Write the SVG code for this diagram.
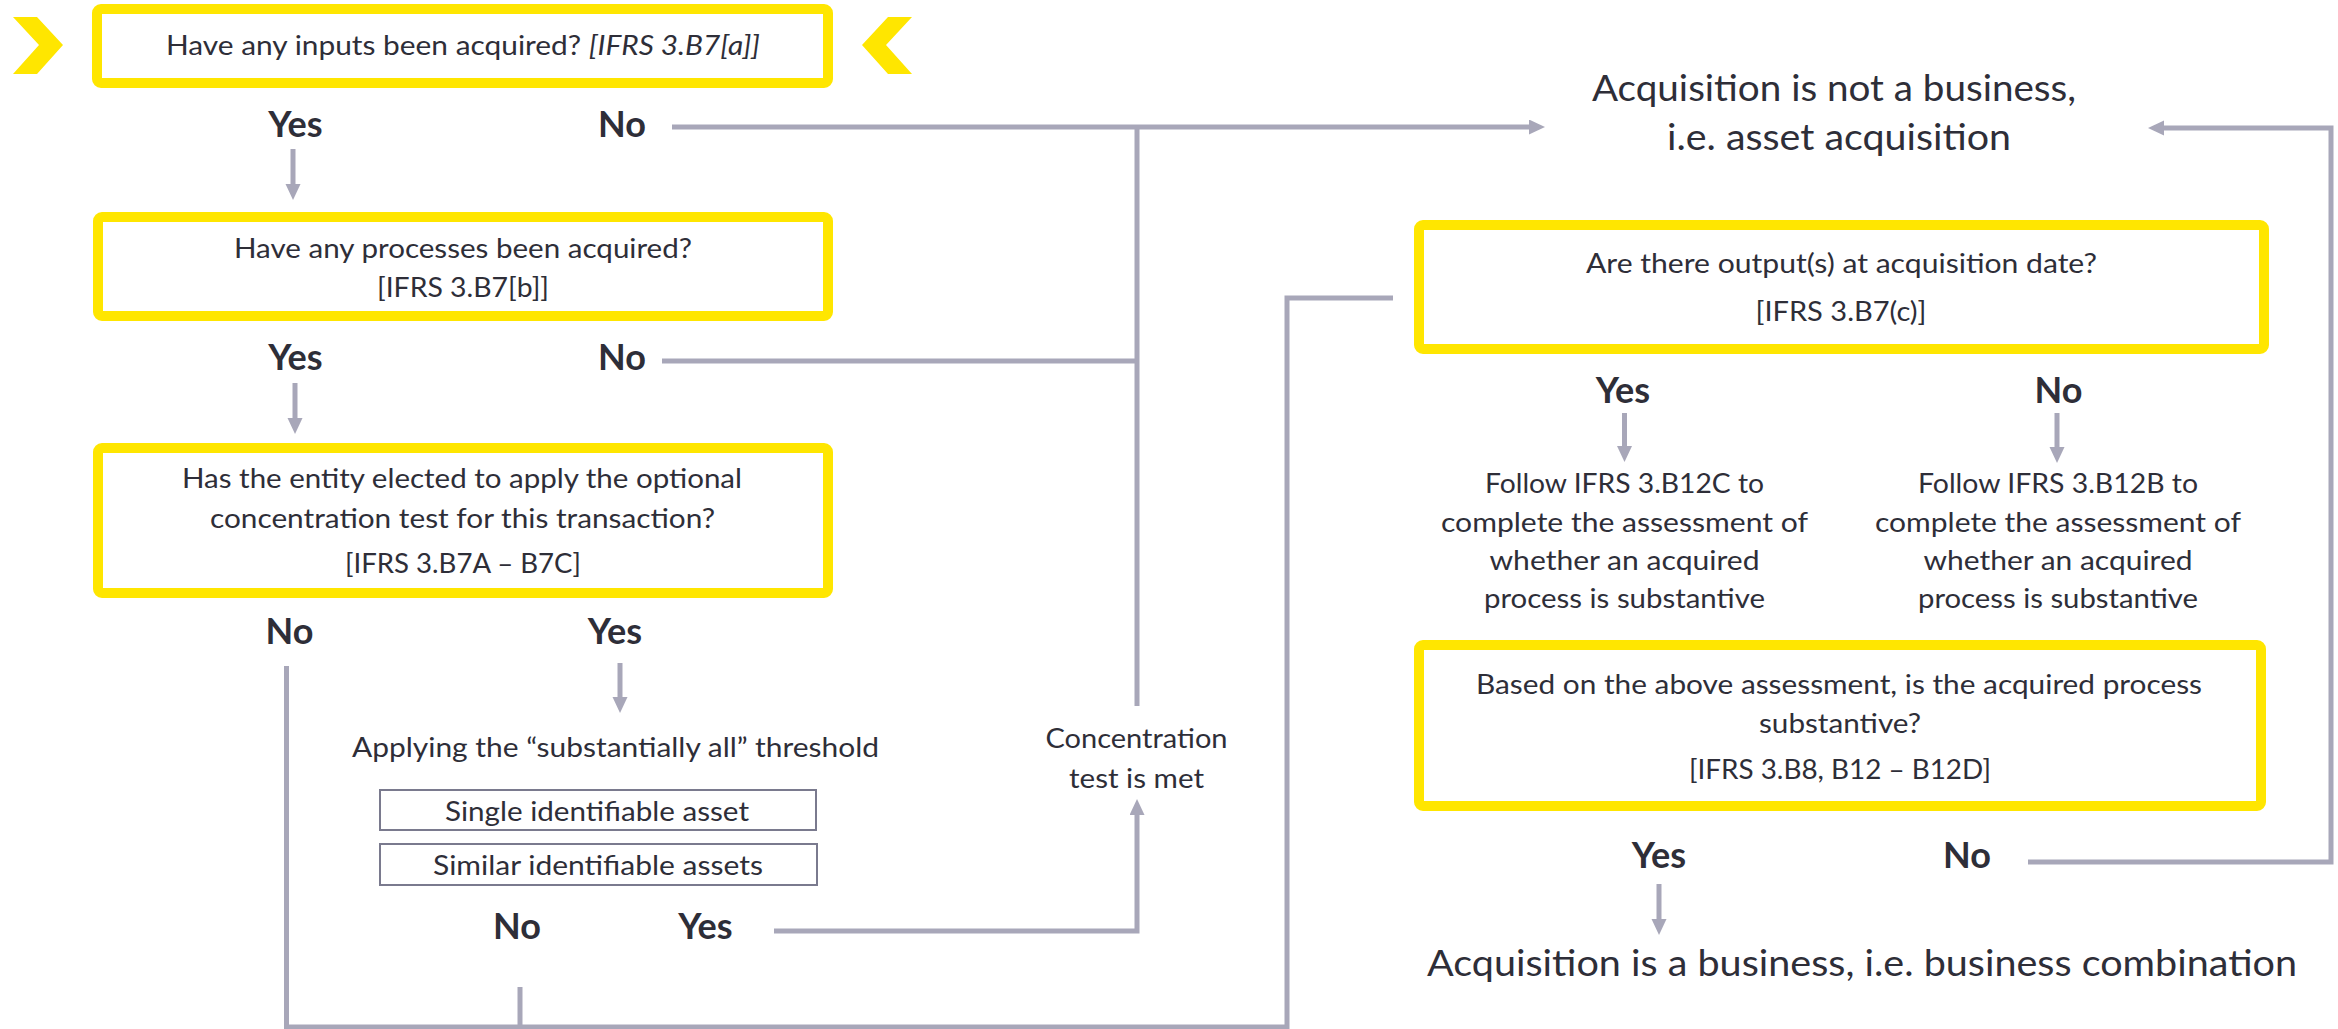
<svg xmlns="http://www.w3.org/2000/svg" width="2338" height="1029" viewBox="0 0 2338 1029">
<style>
text{font-family:Lato,"Liberation Sans",sans-serif;fill:#2e2e38;text-anchor:middle}
.t{font-size:27px}
.big{font-size:36px}
.lbl{font-size:36px;font-weight:bold}
.yb{fill:#ffffff;stroke:#ffe600;stroke-width:10}
.sb{fill:#ffffff;stroke:#7a7a8e;stroke-width:2}
.c{fill:none;stroke:#a8a7b9;stroke-width:5}
.chev{fill:#ffe600}
</style>
<defs>
<marker id="ah" markerUnits="userSpaceOnUse" markerWidth="16" markerHeight="16" refX="2" refY="7.5" orient="auto">
<path d="M0,0 L16,7.5 L0,15 z" fill="#a8a7b9"/>
</marker>
</defs>
<g id="connectors">
<path class="c" d="M672,127 H1531" marker-end="url(#ah)"/>
<path class="c" d="M1137,127 V706"/>
<path class="c" d="M662,361 H1137"/>
<path class="c" d="M293,149 V186" marker-end="url(#ah)"/>
<path class="c" d="M295,383 V420" marker-end="url(#ah)"/>
<path class="c" d="M620,663 V699" marker-end="url(#ah)"/>
<path class="c" d="M1624.5,413 V448" marker-end="url(#ah)"/>
<path class="c" d="M2057,413 V449" marker-end="url(#ah)"/>
<path class="c" d="M1659,884 V921" marker-end="url(#ah)"/>
<path class="c" d="M286.5,666 V1027 H1287 V298 H1393"/>
<path class="c" d="M520,987 V1027"/>
<path class="c" d="M774,931 H1137 V813" marker-end="url(#ah)"/>
<path class="c" d="M2028,862 H2331 V128 H2162" marker-end="url(#ah)"/>
</g>
<g id="chevrons">
<polygon class="chev" points="13,17 37,17 63,45 37,74 13,74 39,45"/>
<polygon class="chev" points="912,17 888,17 862,45 888,74 912,74 886,45"/>
</g>
<g id="q-inputs">
<rect class="yb" x="97" y="9" width="731" height="74" rx="4"/>
<text class="t" x="463" y="55" textLength="594" lengthAdjust="spacingAndGlyphs">Have any inputs been acquired? <tspan font-style="italic">[IFRS 3.B7[a]]</tspan></text>
</g>
<g id="labels-1">
<text class="lbl" x="295.5" y="137">Yes</text>
<text class="lbl" x="622" y="137">No</text>
</g>
<g id="q-processes">
<rect class="yb" x="98" y="217" width="730" height="99" rx="4"/>
<text class="t" x="463" y="258" textLength="458" lengthAdjust="spacingAndGlyphs">Have any processes been acquired?</text>
<text class="t" x="463" y="297" textLength="172" lengthAdjust="spacingAndGlyphs">[IFRS 3.B7[b]]</text>
</g>
<g id="labels-2">
<text class="lbl" x="295.5" y="370">Yes</text>
<text class="lbl" x="622" y="370">No</text>
</g>
<g id="q-concentration">
<rect class="yb" x="98" y="448" width="730" height="145" rx="4"/>
<text class="t" x="462" y="488" textLength="560" lengthAdjust="spacingAndGlyphs">Has the entity elected to apply the optional</text>
<text class="t" x="462.5" y="528" textLength="505" lengthAdjust="spacingAndGlyphs">concentration test for this transaction?</text>
<text class="t" x="463" y="573" textLength="236" lengthAdjust="spacingAndGlyphs">[IFRS 3.B7A – B7C]</text>
</g>
<g id="labels-3">
<text class="lbl" x="289.5" y="644">No</text>
<text class="lbl" x="615" y="644">Yes</text>
</g>
<g id="threshold">
<text class="t" x="615.5" y="757" textLength="527" lengthAdjust="spacingAndGlyphs">Applying the “substantially all” threshold</text>
</g>
<g id="single-asset">
<rect class="sb" x="380" y="790" width="436" height="40"/>
<text class="t" x="597" y="821" textLength="304" lengthAdjust="spacingAndGlyphs">Single identifiable asset</text>
</g>
<g id="similar-assets">
<rect class="sb" x="380" y="844" width="437" height="41"/>
<text class="t" x="598" y="875" textLength="330" lengthAdjust="spacingAndGlyphs">Similar identifiable assets</text>
</g>
<g id="labels-4">
<text class="lbl" x="517" y="939">No</text>
<text class="lbl" x="705.5" y="939">Yes</text>
</g>
<g id="concentration-met">
<text class="t" x="1136.5" y="748" textLength="182" lengthAdjust="spacingAndGlyphs">Concentration</text>
<text class="t" x="1136.5" y="788" textLength="135" lengthAdjust="spacingAndGlyphs">test is met</text>
</g>
<g id="not-business">
<text class="big" x="1834" y="101" textLength="484" lengthAdjust="spacingAndGlyphs">Acquisition is not a business,</text>
<text class="big" x="1839" y="150" textLength="344" lengthAdjust="spacingAndGlyphs">i.e. asset acquisition</text>
</g>
<g id="q-outputs">
<rect class="yb" x="1419" y="225" width="845" height="124" rx="4"/>
<text class="t" x="1841.5" y="273" textLength="511" lengthAdjust="spacingAndGlyphs">Are there output(s) at acquisition date?</text>
<text class="t" x="1841" y="321" textLength="171" lengthAdjust="spacingAndGlyphs">[IFRS 3.B7(c)]</text>
</g>
<g id="labels-5">
<text class="lbl" x="1623" y="403">Yes</text>
<text class="lbl" x="2058.5" y="403">No</text>
</g>
<g id="follow-b12c">
<text class="t" x="1624.5" y="493" textLength="279" lengthAdjust="spacingAndGlyphs">Follow IFRS 3.B12C to</text>
<text class="t" x="1624.5" y="532" textLength="367" lengthAdjust="spacingAndGlyphs">complete the assessment of</text>
<text class="t" x="1624.5" y="570" textLength="270" lengthAdjust="spacingAndGlyphs">whether an acquired</text>
<text class="t" x="1624.5" y="608" textLength="281" lengthAdjust="spacingAndGlyphs">process is substantive</text>
</g>
<g id="follow-b12b">
<text class="t" x="2058" y="493" textLength="280" lengthAdjust="spacingAndGlyphs">Follow IFRS 3.B12B to</text>
<text class="t" x="2058" y="532" textLength="366" lengthAdjust="spacingAndGlyphs">complete the assessment of</text>
<text class="t" x="2058" y="570" textLength="269" lengthAdjust="spacingAndGlyphs">whether an acquired</text>
<text class="t" x="2058" y="608" textLength="280" lengthAdjust="spacingAndGlyphs">process is substantive</text>
</g>
<g id="q-substantive">
<rect class="yb" x="1419" y="645" width="842" height="161" rx="4"/>
<text class="t" x="1839" y="694" textLength="726" lengthAdjust="spacingAndGlyphs">Based on the above assessment, is the acquired process</text>
<text class="t" x="1840" y="733" textLength="162" lengthAdjust="spacingAndGlyphs">substantive?</text>
<text class="t" x="1840" y="779" textLength="302" lengthAdjust="spacingAndGlyphs">[IFRS 3.B8, B12 – B12D]</text>
</g>
<g id="labels-6">
<text class="lbl" x="1659" y="868">Yes</text>
<text class="lbl" x="1967" y="868">No</text>
</g>
<g id="is-business">
<text class="big" x="1862" y="976" textLength="870" lengthAdjust="spacingAndGlyphs">Acquisition is a business, i.e. business combination</text>
</g>
</svg>
